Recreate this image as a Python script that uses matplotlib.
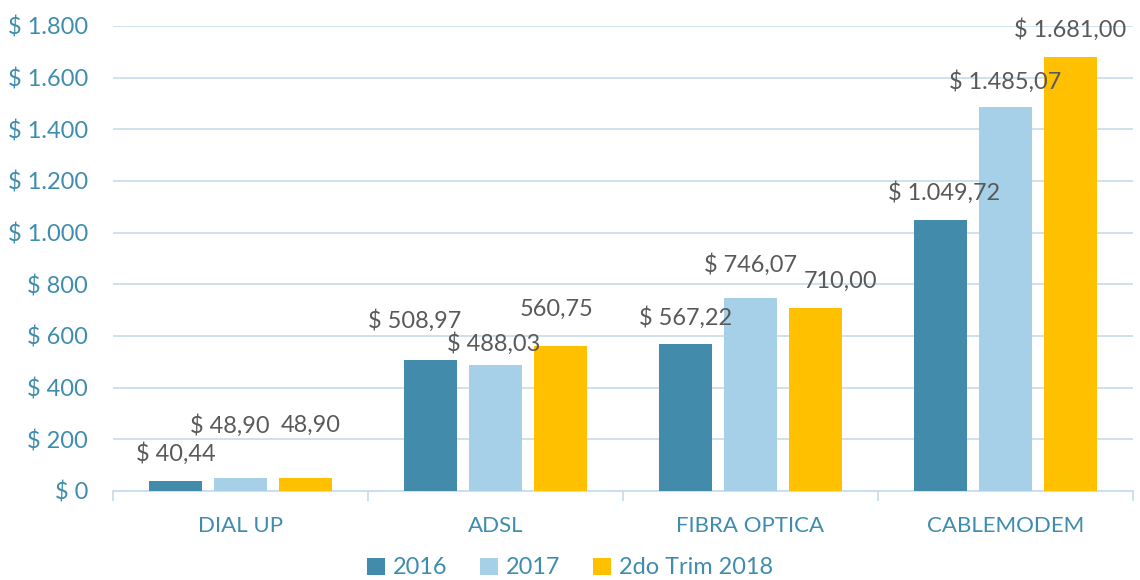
import matplotlib.pyplot as plt
import numpy as np
from matplotlib.ticker import FuncFormatter, FixedLocator

plt.rcParams['font.family'] = ['Lato', 'DejaVu Sans']

# data
categories = ["DIAL UP", "ADSL", "FIBRA OPTICA", "CABLEMODEM"]
series = ["2016", "2017", "2do Trim 2018"]
v2016 = [40.44, 508.97, 567.22, 1049.72]
v2017 = [48.90, 488.03, 746.07, 1485.07]
v2018 = [48.90, 560.75, 710.00, 1681.00]
labels2016 = ["$ 40,44", "$ 508,97", "$ 567,22", "$ 1.049,72"]
labels2017 = ["$ 48,90", "$ 488,03", "$ 746,07", "$ 1.485,07"]
labels2018 = ["48,90", "560,75", "710,00", "$ 1.681,00"]

colors = ["#428BAB", "#A6CFE8", "#FFC000"]
teal = "#3F8DAE"
grid_c = "#C9DEEA"

# label offsets in pixels (dx, dy above bar top), to mimic Excel placement
offs2016 = [(0, 27), (-16, 39), (0, 27), (4, 27)]
offs2017 = [(-11, 53), (-2, 21), (0, 34), (0, 26)]
offs2018 = [(5, 53), (-4, 37), (25, 26), (0, 27)]

fig = plt.figure(figsize=(11.4, 5.8), dpi=100)
ax = fig.add_axes([113 / 1140, 1 - 491 / 580, 1020 / 1140, 465 / 580])

x = np.arange(len(categories))
w = 53 / 255
step = 65 / 255
all_vals = [v2016, v2017, v2018]
all_labels = [labels2016, labels2017, labels2018]
all_offs = [offs2016, offs2017, offs2018]

for i, (vals, labs, offs) in enumerate(zip(all_vals, all_labels, all_offs)):
    xs = x + (i - 1) * step
    ax.bar(xs, vals, width=w, color=colors[i], label=series[i], zorder=3)
    for xi, v, lab, (dx, dy) in zip(xs, vals, labs, offs):
        ax.annotate(lab, (xi, v), xytext=(dx * 0.72, dy * 0.72), textcoords="offset points",
                    ha="center", va="center", fontsize=16.9, color="#595959", zorder=4)

ax.set_xlim(-0.5, len(categories) - 0.5)
ax.set_ylim(0, 1800)
ax.set_yticks(np.arange(0, 1801, 200))
ax.yaxis.set_major_formatter(FuncFormatter(lambda v, p: "$ " + f"{int(v):,}".replace(",", ".")))
ax.grid(axis="y", color=grid_c, linewidth=1.3, zorder=0)
ax.set_xticks(x)
ax.set_xticklabels(categories)
ax.xaxis.set_minor_locator(FixedLocator(np.arange(-0.5, len(categories), 1.0)))
ax.tick_params(axis="x", which="major", length=0, pad=18, labelsize=16, labelcolor=teal)
ax.tick_params(axis="x", which="minor", length=7, color=grid_c, width=1.3, direction="out")
ax.tick_params(axis="y", length=0, pad=18, labelsize=17, labelcolor=teal)

for s in ["top", "right", "left"]:
    ax.spines[s].set_visible(False)
ax.spines["bottom"].set_color(grid_c)
ax.spines["bottom"].set_linewidth(1.3)

leg = fig.legend(loc="center", bbox_to_anchor=(0.5, 1 - 568 / 580), ncol=3, frameon=False,
                 fontsize=16.9, handlelength=0.75, handleheight=0.75, handletextpad=0.35,
                 columnspacing=1.4)
for t in leg.get_texts():
    t.set_color(teal)

fig.savefig("out.png", dpi=100)
